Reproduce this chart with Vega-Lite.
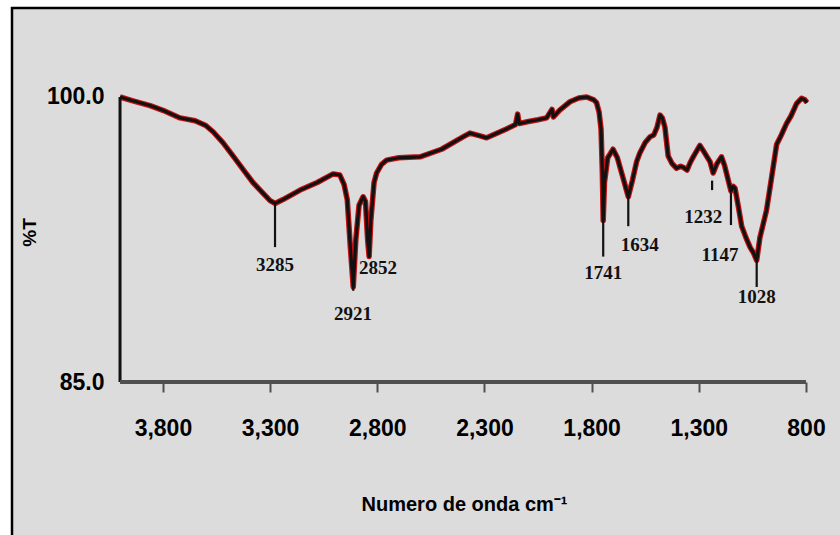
{
  "$schema": "https://vega.github.io/schema/vega-lite/v6.json",
  "width": 830,
  "height": 530,
  "autosize": {"type": "none"},
  "padding": {"left": 12, "top": 8, "right": 0, "bottom": 0},
  "background": "white",
  "config": {
    "view": {"fill": "#dcdcdc", "stroke": "#000000", "strokeWidth": 2.5},
    "axis": {"grid": false}
  },
  "datasets": {
    "spectrum": [
      {"w": 4000, "t": 100.0}, {"w": 3940, "t": 99.8}, {"w": 3860, "t": 99.55}, {"w": 3800, "t": 99.3},
      {"w": 3720, "t": 98.9}, {"w": 3650, "t": 98.75}, {"w": 3600, "t": 98.5}, {"w": 3566, "t": 98.17},
      {"w": 3520, "t": 97.6}, {"w": 3473, "t": 96.9}, {"w": 3420, "t": 96.1}, {"w": 3380, "t": 95.5},
      {"w": 3330, "t": 94.9}, {"w": 3300, "t": 94.55}, {"w": 3277, "t": 94.4}, {"w": 3240, "t": 94.6},
      {"w": 3200, "t": 94.85}, {"w": 3160, "t": 95.1}, {"w": 3080, "t": 95.5}, {"w": 3006, "t": 95.95},
      {"w": 2975, "t": 95.9}, {"w": 2955, "t": 95.4}, {"w": 2940, "t": 94.6}, {"w": 2925, "t": 92.0},
      {"w": 2912, "t": 90.0}, {"w": 2900, "t": 92.5}, {"w": 2885, "t": 94.3}, {"w": 2866, "t": 94.75},
      {"w": 2855, "t": 94.5}, {"w": 2845, "t": 92.5}, {"w": 2838, "t": 91.6}, {"w": 2830, "t": 93.5},
      {"w": 2815, "t": 95.5}, {"w": 2803, "t": 96.0}, {"w": 2780, "t": 96.45}, {"w": 2756, "t": 96.68},
      {"w": 2700, "t": 96.8}, {"w": 2600, "t": 96.85}, {"w": 2500, "t": 97.25}, {"w": 2400, "t": 97.9},
      {"w": 2368, "t": 98.1}, {"w": 2320, "t": 97.95}, {"w": 2290, "t": 97.85}, {"w": 2250, "t": 98.05},
      {"w": 2200, "t": 98.3}, {"w": 2155, "t": 98.55}, {"w": 2145, "t": 99.1}, {"w": 2138, "t": 98.6},
      {"w": 2100, "t": 98.7}, {"w": 2050, "t": 98.8}, {"w": 2010, "t": 98.9}, {"w": 1985, "t": 99.35},
      {"w": 1978, "t": 98.95}, {"w": 1950, "t": 99.3}, {"w": 1901, "t": 99.75}, {"w": 1860, "t": 99.95},
      {"w": 1823, "t": 100.0}, {"w": 1790, "t": 99.85}, {"w": 1777, "t": 99.7}, {"w": 1765, "t": 99.2},
      {"w": 1756, "t": 98.3}, {"w": 1750, "t": 96.0}, {"w": 1746, "t": 93.5}, {"w": 1740, "t": 95.5},
      {"w": 1725, "t": 96.8}, {"w": 1700, "t": 97.25}, {"w": 1680, "t": 96.8}, {"w": 1650, "t": 95.6},
      {"w": 1629, "t": 94.75}, {"w": 1610, "t": 95.6}, {"w": 1590, "t": 96.6}, {"w": 1575, "t": 97.05},
      {"w": 1550, "t": 97.6}, {"w": 1528, "t": 97.9}, {"w": 1510, "t": 98.0}, {"w": 1495, "t": 98.4},
      {"w": 1481, "t": 99.05}, {"w": 1470, "t": 98.9}, {"w": 1458, "t": 98.4}, {"w": 1443, "t": 96.9},
      {"w": 1425, "t": 96.5}, {"w": 1404, "t": 96.25}, {"w": 1385, "t": 96.35}, {"w": 1373, "t": 96.3},
      {"w": 1355, "t": 96.15}, {"w": 1340, "t": 96.55}, {"w": 1326, "t": 96.85}, {"w": 1295, "t": 97.45},
      {"w": 1275, "t": 97.1}, {"w": 1248, "t": 96.6}, {"w": 1233, "t": 96.0}, {"w": 1215, "t": 96.5},
      {"w": 1194, "t": 96.85}, {"w": 1180, "t": 96.4}, {"w": 1171, "t": 96.0}, {"w": 1150, "t": 95.05},
      {"w": 1140, "t": 95.3}, {"w": 1131, "t": 95.2}, {"w": 1115, "t": 94.2}, {"w": 1100, "t": 93.2},
      {"w": 1080, "t": 92.6}, {"w": 1061, "t": 92.1}, {"w": 1045, "t": 91.8}, {"w": 1030, "t": 91.4},
      {"w": 1015, "t": 92.6}, {"w": 1000, "t": 93.3}, {"w": 984, "t": 94.05}, {"w": 960, "t": 95.8},
      {"w": 937, "t": 97.5}, {"w": 915, "t": 98.0}, {"w": 891, "t": 98.6}, {"w": 870, "t": 99.0},
      {"w": 844, "t": 99.65}, {"w": 821, "t": 99.93}, {"w": 805, "t": 99.85}, {"w": 795, "t": 99.7}
    ],
    "peaks": [
      {"label": "3285", "w": 3277, "top": 94.4, "bottom": 92.1, "lx": 3277, "ly": 91.16},
      {"label": "2921", "w": 2912, "top": 90.2, "bottom": 89.8, "lx": 2913, "ly": 88.6},
      {"label": "2852", "w": 2838, "top": 91.7, "bottom": 91.6, "lx": 2797, "ly": 91.0},
      {"label": "1741", "w": 1746, "top": 93.6, "bottom": 91.6, "lx": 1746, "ly": 90.72},
      {"label": "1634", "w": 1629, "top": 94.75, "bottom": 93.2, "lx": 1575, "ly": 92.2},
      {"label": "1232", "w": 1238, "top": 95.6, "bottom": 95.1, "lx": 1279, "ly": 93.7},
      {"label": "1147", "w": 1150, "top": 94.95, "bottom": 93.26, "lx": 1201, "ly": 91.68},
      {"label": "1028", "w": 1030, "top": 91.4, "bottom": 90.0, "lx": 1030, "ly": 89.49}
    ],
    "yaxis": [{"w": 4000, "t": 85, "hi": 100}],
    "xaxis": [{"w": 4000, "to": 800, "t": 85}]
  },
  "encoding": {
    "x": {
      "field": "w", "type": "quantitative",
      "scale": {"domain": [632, 4504], "reverse": true, "nice": false, "zero": false},
      "axis": {
        "orient": "bottom", "offset": -156, "values": [3800, 3300, 2800, 2300, 1800, 1300, 800],
        "format": ",d", "domain": false, "tickSize": 10, "tickColor": "#505050", "tickWidth": 2,
        "labelFont": "Liberation Sans, sans-serif", "labelFontWeight": "bold",
        "labelFontSize": 23, "labelColor": "#000000", "labelPadding": 25,
        "title": "Numero de onda cm⁻¹", "titleFont": "Liberation Sans, sans-serif",
        "titleFontSize": 20, "titleFontWeight": "bold", "titleColor": "#000000", "titlePadding": 54, "titleX": 452
      }
    },
    "y": {
      "field": "t", "type": "quantitative",
      "scale": {"domain": [76.79, 104.684], "nice": false, "zero": false},
      "axis": {
        "orient": "left", "offset": -96, "values": [85, 100], "format": ".1f", "ticks": false, "domain": false,
        "labelFont": "Liberation Sans, sans-serif", "labelFontWeight": "bold",
        "labelFontSize": 23, "labelColor": "#000000", "labelPadding": 4,
        "title": "%T", "titleFont": "Liberation Sans, sans-serif", "titleFontSize": 19, "titleFontWeight": "bold",
        "titleColor": "#000000", "titlePadding": 7, "titleY": 224
      }
    }
  },
  "layer": [
    {
      "data": {"name": "spectrum"},
      "mark": {"type": "line", "color": "#c41010", "strokeWidth": 5.5, "strokeJoin": "round"}
    },
    {
      "data": {"name": "spectrum"},
      "mark": {"type": "line", "color": "#111111", "strokeWidth": 3.2, "strokeJoin": "round"}
    },
    {
      "data": {"name": "yaxis"},
      "mark": {"type": "rule", "color": "#111111", "strokeWidth": 3},
      "encoding": {"y2": {"field": "hi"}}
    },
    {
      "data": {"name": "xaxis"},
      "mark": {"type": "rule", "color": "#505050", "strokeWidth": 4},
      "encoding": {"x2": {"field": "to"}}
    },
    {
      "data": {"name": "peaks"},
      "mark": {"type": "rule", "color": "#111111", "strokeWidth": 2.2},
      "encoding": {
        "y": {"field": "top", "type": "quantitative"},
        "y2": {"field": "bottom"}
      }
    },
    {
      "data": {"name": "peaks"},
      "mark": {"type": "text", "font": "Liberation Serif, serif", "fontWeight": "bold", "fontSize": 19, "color": "#111111", "baseline": "middle", "align": "center"},
      "encoding": {
        "x": {"field": "lx", "type": "quantitative"},
        "y": {"field": "ly", "type": "quantitative"},
        "text": {"field": "label"}
      }
    }
  ]
}
